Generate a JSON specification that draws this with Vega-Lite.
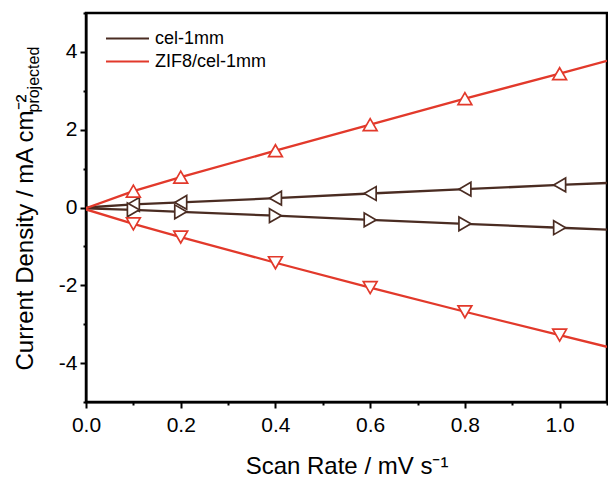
{
  "$schema": "https://vega.github.io/schema/vega-lite/v6.json",
  "width": 521,
  "height": 389,
  "autosize": "none",
  "padding": {"left": 86, "top": 13, "right": 1, "bottom": 75},
  "background": "white",
  "config": {
    "view": {"stroke": "#000", "strokeWidth": 2.5},
    "font": "Liberation Sans",
    "axis": {"grid": false, "domainColor": "#000", "domainWidth": 2, "tickColor": "#000", "tickWidth": 2, "labelColor": "#000", "titleColor": "#000", "labelFont": "Liberation Sans", "titleFont": "Liberation Sans", "titleFontWeight": "normal"}
  },
  "data": {
    "values": [
      {"x": 0.0, "y": 0.0, "sample": "cel-1mm", "s": "cel-a", "m": false},
      {"x": 0.1, "y": 0.08, "sample": "cel-1mm", "s": "cel-a", "m": true},
      {"x": 0.2, "y": 0.13, "sample": "cel-1mm", "s": "cel-a", "m": true},
      {"x": 0.4, "y": 0.24, "sample": "cel-1mm", "s": "cel-a", "m": true},
      {"x": 0.6, "y": 0.36, "sample": "cel-1mm", "s": "cel-a", "m": true},
      {"x": 0.8, "y": 0.47, "sample": "cel-1mm", "s": "cel-a", "m": true},
      {"x": 1.0, "y": 0.58, "sample": "cel-1mm", "s": "cel-a", "m": true},
      {"x": 1.1, "y": 0.63, "sample": "cel-1mm", "s": "cel-a", "m": false},
      {"x": 0.0, "y": -0.02, "sample": "cel-1mm", "s": "cel-c", "m": false},
      {"x": 0.1, "y": -0.06, "sample": "cel-1mm", "s": "cel-c", "m": true},
      {"x": 0.2, "y": -0.11, "sample": "cel-1mm", "s": "cel-c", "m": true},
      {"x": 0.4, "y": -0.21, "sample": "cel-1mm", "s": "cel-c", "m": true},
      {"x": 0.6, "y": -0.32, "sample": "cel-1mm", "s": "cel-c", "m": true},
      {"x": 0.8, "y": -0.42, "sample": "cel-1mm", "s": "cel-c", "m": true},
      {"x": 1.0, "y": -0.52, "sample": "cel-1mm", "s": "cel-c", "m": true},
      {"x": 1.1, "y": -0.57, "sample": "cel-1mm", "s": "cel-c", "m": false},
      {"x": 0.0, "y": -0.02, "sample": "ZIF8/cel-1mm", "s": "zif-a", "m": false},
      {"x": 0.1, "y": 0.42, "sample": "ZIF8/cel-1mm", "s": "zif-a", "m": true},
      {"x": 0.2, "y": 0.78, "sample": "ZIF8/cel-1mm", "s": "zif-a", "m": true},
      {"x": 0.4, "y": 1.46, "sample": "ZIF8/cel-1mm", "s": "zif-a", "m": true},
      {"x": 0.6, "y": 2.13, "sample": "ZIF8/cel-1mm", "s": "zif-a", "m": true},
      {"x": 0.8, "y": 2.8, "sample": "ZIF8/cel-1mm", "s": "zif-a", "m": true},
      {"x": 1.0, "y": 3.44, "sample": "ZIF8/cel-1mm", "s": "zif-a", "m": true},
      {"x": 1.1, "y": 3.77, "sample": "ZIF8/cel-1mm", "s": "zif-a", "m": false},
      {"x": 0.0, "y": -0.05, "sample": "ZIF8/cel-1mm", "s": "zif-c", "m": false},
      {"x": 0.1, "y": -0.42, "sample": "ZIF8/cel-1mm", "s": "zif-c", "m": true},
      {"x": 0.2, "y": -0.76, "sample": "ZIF8/cel-1mm", "s": "zif-c", "m": true},
      {"x": 0.4, "y": -1.42, "sample": "ZIF8/cel-1mm", "s": "zif-c", "m": true},
      {"x": 0.6, "y": -2.06, "sample": "ZIF8/cel-1mm", "s": "zif-c", "m": true},
      {"x": 0.8, "y": -2.68, "sample": "ZIF8/cel-1mm", "s": "zif-c", "m": true},
      {"x": 1.0, "y": -3.28, "sample": "ZIF8/cel-1mm", "s": "zif-c", "m": true},
      {"x": 1.1, "y": -3.58, "sample": "ZIF8/cel-1mm", "s": "zif-c", "m": false}
    ]
  },
  "layer": [
    {
      "mark": {"type": "line", "strokeWidth": 2.3, "clip": true},
      "encoding": {
        "x": {
          "field": "x", "type": "quantitative",
          "scale": {"domain": [0, 1.1], "nice": false, "zero": false},
          "axis": {
            "title": "Scan Rate / mV s⁻¹",
            "titleFontSize": 24,
            "titleBaseline": "alphabetic",
            "titleY": 71,
            "values": [0, 0.1, 0.2, 0.3, 0.4, 0.5, 0.6, 0.7, 0.8, 0.9, 1.0, 1.1],
            "tickSize": {"condition": {"test": "round(datum.value*10) % 2 === 0", "value": 6}, "value": 3},
            "labelExpr": "round(datum.value*10) % 2 === 0 && datum.value < 1.05 ? format(datum.value, '.1f') : ''",
            "labelFontSize": 21,
            "labelPadding": 6,
            "labelFlush": false,
            "labelOverlap": false
          }
        },
        "y": {
          "field": "y", "type": "quantitative",
          "scale": {"domain": [-5, 5], "nice": false, "zero": false},
          "axis": {
            "orient": "left",
            "title": "Current Density / mA cm⁻²",
            "titleFontSize": 24,
            "titleAngle": -90,
            "titleAlign": "left",
            "titleBaseline": "alphabetic",
            "titleX": -54,
            "titleY": 357,
            "values": [-5, -4, -3, -2, -1, 0, 1, 2, 3, 4, 5],
            "tickSize": {"condition": {"test": "datum.value % 2 === 0", "value": 6}, "value": 3},
            "labelExpr": "datum.value % 2 === 0 && abs(datum.value) < 5 ? '' + datum.value : ''",
            "labelFontSize": 21,
            "labelPadding": 3,
            "labelFlush": false,
            "labelOverlap": false
          }
        },
        "color": {
          "field": "sample", "type": "nominal",
          "scale": {"domain": ["cel-1mm", "ZIF8/cel-1mm"], "range": ["#4a2c22", "#e2392b"]},
          "legend": {
            "title": null,
            "orient": "none",
            "legendX": 19,
            "legendY": 14,
            "symbolType": "stroke",
            "symbolSize": 1849,
            "symbolStrokeWidth": 2,
            "labelFontSize": 18,
            "labelFont": "Liberation Sans",
            "labelColor": "#000",
            "labelOffset": 5,
            "clipHeight": 23,
            "rowPadding": 0
          }
        },
        "detail": {"field": "s", "type": "nominal"}
      }
    },
    {
      "transform": [{"filter": "datum.m"}],
      "mark": {"type": "point", "filled": true, "fill": "white", "strokeWidth": 1.7, "size": 190, "opacity": 1},
      "encoding": {
        "x": {"field": "x", "type": "quantitative"},
        "y": {
          "field": "y", "type": "quantitative",
          "axis": {
            "orient": "left",
            "title": "projected",
            "titleFontSize": 16,
            "titleAngle": -90,
            "titleAlign": "left",
            "titleBaseline": "alphabetic",
            "titleX": -48,
            "titleY": 99,
            "labels": false,
            "ticks": false,
            "domain": false,
            "grid": false
          }
        },
        "stroke": {
          "field": "sample", "type": "nominal",
          "scale": {"domain": ["cel-1mm", "ZIF8/cel-1mm"], "range": ["#4a2c22", "#e2392b"]},
          "legend": null
        },
        "shape": {
          "field": "s", "type": "nominal",
          "scale": {"domain": ["cel-a", "cel-c", "zif-a", "zif-c"], "range": ["triangle-left", "triangle-right", "triangle-up", "triangle-down"]},
          "legend": null
        }
      }
    }
  ],
  "resolve": {"axis": {"y": "independent"}}
}
